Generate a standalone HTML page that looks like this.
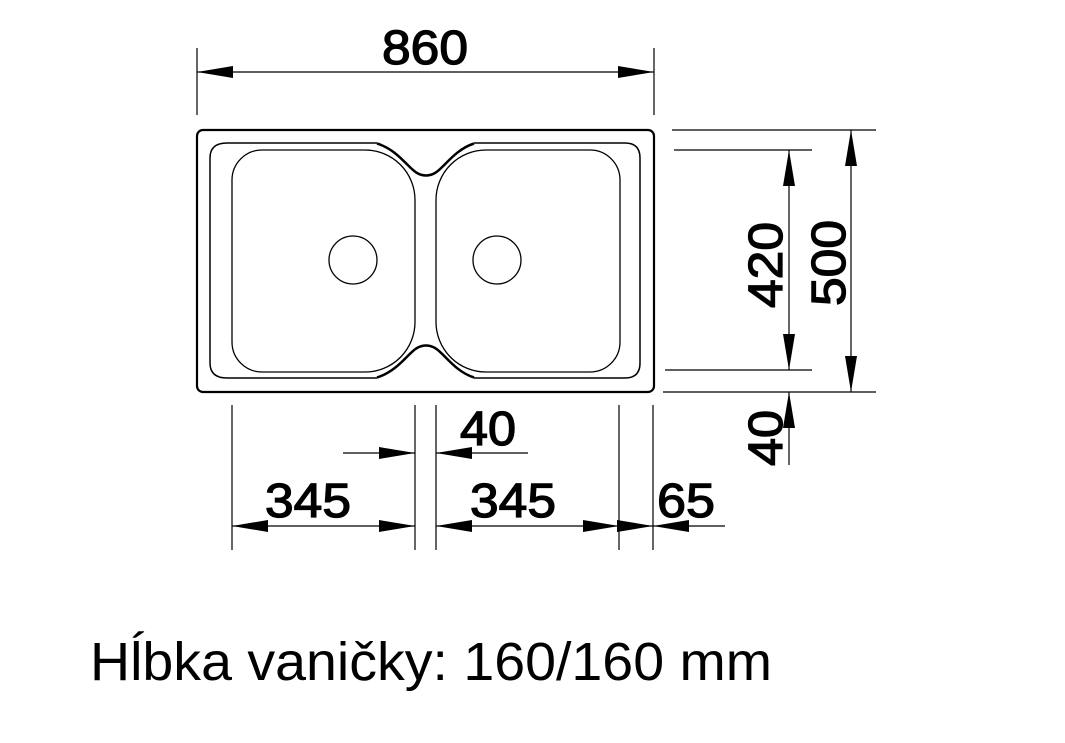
<!DOCTYPE html>
<html><head><meta charset="utf-8"><style>html,body{margin:0;padding:0;background:#fff}svg{display:block}</style></head>
<body>
<svg width="1065" height="743" viewBox="0 0 1065 743" xmlns="http://www.w3.org/2000/svg">
<defs>
<marker id="a" viewBox="0 0 36 12" refX="36" refY="6" markerWidth="36" markerHeight="12" markerUnits="userSpaceOnUse" orient="auto"><path d="M0,0L36,6L0,12Z" fill="#000"/></marker>
</defs>
<g fill="none" stroke="#000">
<rect x="197" y="130" width="457" height="262" rx="6" stroke-width="2.2"/>
<path d="M227,143H377 M474,143H625 Q640,143 640,158 V363 Q640,378 625,378 H474 M377,378 H227 Q210,378 210,363 V158 Q210,143 227,143" stroke-width="1.5"/>
<path d="M377,143.5C398,150 408,168 417,173Q426,178 435,173C444,168 454,150 474,143.5M377,377.5C398,371 408,353 417,348Q426,343 435,348C444,353 454,371 474,377.5" stroke-width="2.5"/>
<path d="M262,150H365A50,50 0 0 1 415,200V322A50,50 0 0 1 365,372H262A30,30 0 0 1 232,342V180A30,30 0 0 1 262,150Z" stroke-width="1.3"/>
<path d="M486,150H590A30,30 0 0 1 620,180V342A30,30 0 0 1 590,372H486A50,50 0 0 1 436,322V200A50,50 0 0 1 486,150Z" stroke-width="1.3"/>
<circle cx="353" cy="260" r="24" stroke-width="1.3"/>
<circle cx="497" cy="260" r="24" stroke-width="1.3"/>
<g stroke-width="1.2">
<path d="M197,48V115M654,48V115"/>
<path d="M232,405V550M415,405V550M436,405V550M619,405V550M653,405V550"/>
<path d="M672,130H876M663,392H876M674,150H812M665,370H812"/>
</g>
<g stroke-width="1.2" marker-end="url(#a)">
<path d="M425,72H197"/><path d="M425,72H654"/>
<path d="M851,260V130"/><path d="M851,260V392"/>
<path d="M789,260V150"/><path d="M789,260V370"/>
<path d="M789,465V392"/>
<path d="M343,453H415"/><path d="M528,453H436"/>
<path d="M320,526H232"/><path d="M320,526H415"/>
<path d="M530,526H436"/><path d="M530,526H619"/>
<path d="M725,526H653"/><path d="M619,526H653"/>
</g>
</g>
<g font-family="Liberation Sans, sans-serif" font-size="48" fill="#000" stroke="#000" stroke-width="1.3">
<text x="425" y="64" text-anchor="middle" textLength="86" lengthAdjust="spacingAndGlyphs">860</text>
<text x="488" y="445" text-anchor="middle" textLength="56" lengthAdjust="spacingAndGlyphs">40</text>
<text x="308" y="517" text-anchor="middle" textLength="86" lengthAdjust="spacingAndGlyphs">345</text>
<text x="513" y="517" text-anchor="middle" textLength="86" lengthAdjust="spacingAndGlyphs">345</text>
<text x="686" y="517" text-anchor="middle" textLength="58" lengthAdjust="spacingAndGlyphs">65</text>
<text transform="translate(782,265) rotate(-90)" text-anchor="middle" textLength="86" lengthAdjust="spacingAndGlyphs">420</text>
<text transform="translate(845,263) rotate(-90)" text-anchor="middle" textLength="86" lengthAdjust="spacingAndGlyphs">500</text>
<text transform="translate(782,438) rotate(-90)" text-anchor="middle" textLength="56" lengthAdjust="spacingAndGlyphs">40</text>
</g>
<text x="90" y="680" font-family="Liberation Sans, sans-serif" font-size="54" textLength="682" lengthAdjust="spacingAndGlyphs" fill="#000">Hĺbka vaničky: 160/160 mm</text>
</svg>
</body></html>
